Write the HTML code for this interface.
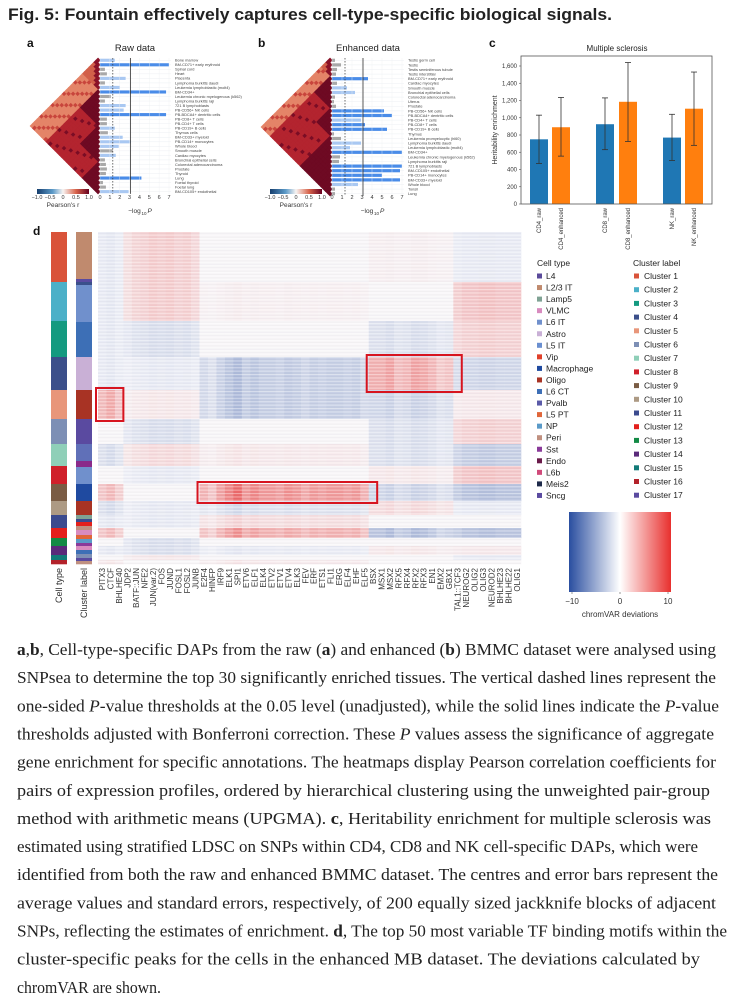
<!DOCTYPE html>
<html><head><meta charset="utf-8"><style>
html,body{margin:0;padding:0;background:#fff}
svg{display:block}
text{font-family:"Liberation Sans",sans-serif}
.cap{font-family:"Liberation Serif",serif;font-size:17px;fill:#222}
</style></head><body>
<svg id="fig" width="738" height="1005" viewBox="0 0 738 1005" xmlns="http://www.w3.org/2000/svg">
<defs>
<linearGradient id="pear" x1="0" x2="1" y1="0" y2="0"><stop offset="0" stop-color="#153e6e"/><stop offset="0.3" stop-color="#5c9ac8"/><stop offset="0.5" stop-color="#f7f4f2"/><stop offset="0.75" stop-color="#d8644c"/><stop offset="1" stop-color="#67001f"/></linearGradient>
<linearGradient id="chrom" x1="0" x2="1" y1="0" y2="0"><stop offset="0" stop-color="#2a4ea0"/><stop offset="0.5" stop-color="#ffffff"/><stop offset="1" stop-color="#e8302e"/></linearGradient>
<pattern id="stripes" width="4" height="3.4" patternUnits="userSpaceOnUse"><rect width="4" height="1.1" fill="#fff" opacity="0.4"/><rect y="2.2" width="4" height="0.6" fill="#889" opacity="0.1"/></pattern>
</defs>
<text x="8" y="20" font-size="17" font-weight="bold" fill="#222" textLength="604" lengthAdjust="spacingAndGlyphs">Fig. 5: Fountain effectively captures cell-type-specific biological signals.</text>
<g id="pa"></g>
<g id="pb"></g>
<g id="pc"></g>
<g id="pd"></g>
<g id="cap"></g>
</svg>
<script>
// ---------- data ----------
const rawLabels=["Bone marrow","BM-CD71+ early erythroid","Spinal cord","Heart","Placenta","Lymphoma burkitts daudi","Leukemia lymphoblastic (molt4)","BM-CD34+","Leukemia chronic myelogenous (k562)","Lymphoma burkitts raji","721 B lymphoblasts","PB-CD56+ NK cells","PB-BDCA4+ dentritic cells","PB-CD8+ T cells","PB-CD4+ T cells","PB-CD19+ B cells","Thymus cells","BM-CD33+ myeloid","PB-CD14+ monocytes","Whole blood","Smooth muscle","Cardiac myocytes","Bronchial epithelial cells","Colorectal adenocarcinoma","Prostate","Thyroid","Lung","Foetal thyroid","Foetal lung","BM-CD105+ endothelial"];
const rawValues=[1.5,7,0.5,0.7,2.6,0.5,2,6.7,1.1,0.5,2.6,2.4,6.7,0.7,0.7,1.5,0.8,2.3,3.1,1.9,1.3,1.6,0.5,0.6,0.7,0.6,4.2,0.3,0.6,2.9];
const rawGroups=[0,0,0,0,0,0,0,1,1,1,1,1,1,1,1,2,2,2,2,2,2,2,2,3,3,3,3,3,3,3];
const enhLabels=["Testis germ cell","Testis","Testis seminiferous tubule","Testis interstitial","BM-CD71+ early erythroid","Cardiac myocytes","Smooth muscle","Bronchial epithelial cells","Colorectal adenocarcinoma","Uterus","Prostate","PB-CD56+ NK cells","PB-BDCA4+ dentritic cells","PB-CD4+ T cells","PB-CD8+ T cells","PB-CD19+ B cells","Thymus","Leukemia promyelocytic (hl60)","Lymphoma burkitts daudi","Leukemia lymphoblastic (molt4)","BM-CD34+","Leukemia chronic myelogenous (k562)","Lymphoma burkitts raji","721 B lymphoblasts","BM-CD105+ endothelial","PB-CD14+ monocytes","BM-CD33+ myeloid","Whole blood","Tonsil","Lung"];
const enhValues=[0.3,0.9,0.5,0.4,3.6,0.5,1.5,2.3,0.3,0.2,0.4,5.2,6.0,2.9,3.3,5.5,0.2,0.9,2.9,1.8,7,0.8,0.7,7,6.8,5,6.8,2.6,0.3,0.3];
const enhGroups=[0,0,0,0,1,1,1,1,1,1,1,2,2,2,2,2,2,3,3,3,3,3,3,3,3,3,3,3,3,3];
const pTicks=[0,1,2,3,4,5,6,7];
const pearTicks=["−1.0","−0.5","0","0.5","1.0"];

const msCats=["CD4_raw","CD4_enhanced","CD8_raw","CD8_enhanced","NK_raw","NK_enhanced"];
const msValues=[750,890,925,1185,770,1105];
const msLow=[470,555,630,725,505,680];
const msHigh=[1030,1235,1230,1640,1040,1530];
const msTicks=[0,200,400,600,800,1000,1200,1400,1600];

const tfNames=["PITX3","CTCF","BHLHE40","JDP2","BATF::JUN","NFE2","JUN(var.2)","FOS","JUND","FOSL1","FOSL2","JUNB","E2F4","HINFP","IRF9","ELK1","SPI1","ETV6","ELF1","ELK4","ETV2","ETV1","ETV4","ELK3","FEV","ERF","ETS1","FLI1","ERG","ELF4","EHF","ELF5","BSX","MSX1","MSX2","RFX5","RFX4","RFX2","RFX3","EN1","EMX2","GBX1","TAL1::TCF3","NEUROG2","OLIG2","OLIG3","NEUROD2","BHLHE23","BHLHE22","OLIG1"];
const tfGroup=[0,0,0,1,1,1,1,1,1,1,1,1,2,2,2,2,2,2,2,2,2,2,2,2,2,2,2,2,2,2,2,2,3,3,3,3,3,3,3,3,3,3,4,4,4,4,4,4,4,4];
const tfWeight=[1,1.3,0.8,0.6,0.9,1,1.2,1.1,1.2,1,1.1,0.8,0.7,0.5,0.9,1.2,1.5,1,1.2,1,1,0.9,1.1,1,0.8,1,0.9,1,1,0.9,1,0.7,1,1,1.2,0.8,0.9,1.2,1.1,0.9,0.6,0.7,0.8,1,1,1.1,1.1,1,1,1];
const bandSizes=[50,39,36,33,29,25,22,18,17,14,13,10,8,9,5,4];
const bandColors=["#d9533a","#4bb0c8","#149a80","#3b4f8a","#e8967a","#7d8fb5","#8fcfb8","#d0202a","#7a5c44","#ad9a84","#3b4a8e","#e3201c","#138a45","#5a2a7a","#127a78","#b3222a"];
const bandG0=[-1,-1,-1,-1,5,0,-2,0,4,-2,-1,4,0,-1,0,1];
const bandG1=[3,3,-2,-1,1,-2,2,-1,0,-1,-1,0,-2,-2,1,0];
const bandG2=[0,0.5,0,-4,-4,0,1,0,8,-2,2,6,0,-1,0,1];
const bandG3=[0.5,0,-2,6,-3,-2,-2,1,-3,2,0,-5,0,1,0,0];
const bandG4=[-1,4,3,-3,1,3,-4,4,-5,-1,0,-5,0,1,-1,0];
const labelBars=[[0,47,"#c08a6e"],[47,50,"#5a4aa0"],[50,53,"#3b4f8a"],[53,56,"#7090cc"],[56,90,"#7090cc"],[90,125,"#3d6fb6"],[125,158,"#c9b0d6"],[158,187,"#a83324"],[187,212,"#5a4aa0"],[212,229,"#6070b8"],[229,235,"#8a2a8a"],[235,252,"#7090cc"],[252,269,"#1f4aa0"],[269,283,"#a83324"],[283,287,"#7fa294"],[287,290,"#3b4a8e"],[290,294,"#e3201c"],[294,298,"#c09080"],[298,303,"#d88bbf"],[303,307,"#e0663a"],[307,311,"#5a9ac8"],[311,314,"#8a3a9a"],[314,318,"#d88bbf"],[318,322,"#3d6fb6"],[322,326,"#7d8fb5"],[326,329,"#5a4aa0"],[329,332,"#c09080"]];
const ctNames=["L4","L2/3 IT","Lamp5","VLMC","L6 IT","Astro","L5 IT","Vip","Macrophage","Oligo","L6 CT","Pvalb","L5 PT","NP","Peri","Sst","Endo","L6b","Meis2","Sncg"];
const ctColors=["#5a4a9a","#c08a6e","#7fa294","#d88bbf","#7090cc","#c9b0d6","#6a8fd0","#e0402a","#1f4aa0","#a83324","#3d6fb6","#5a5aa8","#e0663a","#5a9ac8","#c09080","#8a3a9a","#6a1a4a","#d04a7a","#1e2a4a","#5a4aa0"];
const clNames=["Cluster 1","Cluster 2","Cluster 3","Cluster 4","Cluster 5","Cluster 6","Cluster 7","Cluster 8","Cluster 9","Cluster 10","Cluster 11","Cluster 12","Cluster 13","Cluster 14","Cluster 15","Cluster 16","Cluster 17"];
const clColors=["#d9533a","#4bb0c8","#149a80","#3b4f8a","#e8967a","#7d8fb5","#8fcfb8","#d0202a","#7a5c44","#ad9a84","#3b4a8e","#e3201c","#138a45","#5a2a7a","#127a78","#b3222a","#5a4aa0"];
const chromTicks=[-10,0,10];

// ---------- helpers ----------
const NS="http://www.w3.org/2000/svg";
function mk(parent,tag,at,txt){const e=document.createElementNS(NS,tag);for(const k in at)e.setAttribute(k,at[k]);if(txt!==undefined)e.textContent=txt;parent.appendChild(e);return e;}
function lerp(a,b,t){return Math.round(a+(b-a)*t);}
function chromColor(v){v=Math.max(-10,Math.min(10,v));const t=Math.abs(v)/10;
 if(v>=0)return `rgb(${lerp(248,232,t)},${lerp(246,48,t)},${lerp(248,46,t)})`;
 return `rgb(${lerp(246,42,t)},${lerp(246,78,t)},${lerp(250,160,t)})`;}

// ---------- panels a,b ----------
function tri(g,labels,vals,groups,xr,y0,rowH,bx0,bsc,lx,title,tx,letter,lxl,cbx,yb){
 let e=mk(g,"text",{x:lxl,y:47,"font-size":12,"font-weight":"bold",fill:"#111"},letter);
 
 e=mk(g,"text",{x:tx,y:51,"font-size":9.5,"text-anchor":"middle",fill:"#222"},title);
 
 const n=labels.length,h=rowH/2;
 for(let i=0;i<n;i++)for(let j=i;j<n;j++){
  const gi=groups[i],gj=groups[j];let c;
  if(gi===gj)c=gi===0?(j-i<2?"#8a1228":"#d2604a"):"#6e0a23";
  else if(Math.min(gi,gj)===0)c=((i+j)%5===0)?"#c8453c":"#e48468";
  else c=((i*7+j*3)%11===0)?"#7a0d25":"#b3242f";
  const cx=xr-(j-i)*h,cy=y0+(i+j+1)*h;
  e=mk(g,"polygon",{points:`${cx},${cy-h} ${cx+h},${cy} ${cx},${cy+h} ${cx-h},${cy}`,fill:c,stroke:c,"stroke-width":0.6});
  
 }
 e=mk(g,"rect",{x:cbx,y:yb-10,width:52,height:5,fill:"url(#pear)"});
 
 pearTicks.forEach((t,k)=>{e=mk(g,"text",{x:cbx+k*13,y:yb,"font-size":5.5,"text-anchor":"middle",fill:"#333"},t);
  });
 e=mk(g,"text",{x:cbx+26,y:yb+8,"font-size":6.5,"text-anchor":"middle",fill:"#333"},"Pearson's r");
 
 const xs=v=>bx0+v*bsc;
 for(let i=0;i<n;i++){const y=y0+i*rowH;
  mk(g,"line",{x1:bx0,x2:xs(7.2),y1:y+rowH/2,y2:y+rowH/2,stroke:"#eceff3","stroke-width":0.5});
  const v=vals[i],c=v>3.1?"#4a8ce8":(v>1.3?"#a9c8f2":"#a8a8a8");
  e=mk(g,"rect",{x:bx0,y:y+0.7,width:xs(v)-bx0,height:rowH-1.4,fill:c});
  
  e=mk(g,"text",{x:lx,y:y+rowH*0.8,"font-size":3.9,fill:"#444"},labels[i]);
  
 }
 pTicks.forEach(t=>{mk(g,"line",{x1:xs(t),x2:xs(t),y1:y0,y2:y0+n*rowH,stroke:"#eef0f3","stroke-width":0.4});
  e=mk(g,"text",{x:xs(t),y:yb,"font-size":5.5,"text-anchor":"middle",fill:"#333"},t);
  });
 e=mk(g,"line",{x1:xs(1.3),x2:xs(1.3),y1:y0,y2:y0+n*rowH,stroke:"#333","stroke-width":0.7,"stroke-dasharray":"1.5,1.5"});
 
 e=mk(g,"line",{x1:xs(3.1),x2:xs(3.1),y1:y0,y2:y0+n*rowH,stroke:"#333","stroke-width":0.8});
 
 e=mk(g,"text",{x:xs(3.5),y:yb+14,"font-size":6.5,"text-anchor":"middle",fill:"#333"},"−log");
 
 mk(g,"text",{x:xs(3.5)+7,y:yb+16,"font-size":4.5,fill:"#333"},"10");
 mk(g,"text",{x:xs(3.5)+13,y:yb+14,"font-size":6.5,"font-style":"italic",fill:"#333"},"P");
}
tri(document.getElementById("pa"),rawLabels,rawValues,rawGroups,98,58,4.53,100,9.86,175,"Raw data",135,"a",27,37,199);
tri(document.getElementById("pb"),enhLabels,enhValues,enhGroups,330,58,4.6,332,10,408,"Enhanced data",368,"b",258,270,199);

// ---------- panel c ----------
(function(){
 const g=document.getElementById("pc");
 const X0=521,X1=712,Yb=204,sc=138/1600;
 const ys=v=>Yb-v*sc;
 const centers=[539,561,605,628,672,694];
 let e=mk(g,"text",{x:489,y:47,"font-size":12,"font-weight":"bold",fill:"#111"},"c");
 
 e=mk(g,"text",{x:617,y:51,"font-size":8,"text-anchor":"middle",fill:"#222"},"Multiple sclerosis");
 
 msValues.forEach((v,i)=>{
  e=mk(g,"rect",{x:centers[i]-9,y:ys(v),width:18,height:Yb-ys(v),fill:i%2?"#ff7f0e":"#1f77b4"});
  
  e=mk(g,"line",{x1:centers[i],x2:centers[i],y1:ys(msLow[i]),y2:ys(msHigh[i]),stroke:"#333","stroke-width":0.8});
  
  [msLow[i],msHigh[i]].forEach(w=>mk(g,"line",{x1:centers[i]-3,x2:centers[i]+3,y1:ys(w),y2:ys(w),stroke:"#333","stroke-width":0.8}));
  e=mk(g,"text",{x:0,y:0,"font-size":6,"text-anchor":"end",fill:"#333",transform:`translate(${centers[i]+2},${Yb+4}) rotate(-90)`},msCats[i]);
  
 });
 e=mk(g,"rect",{x:X0,y:56,width:X1-X0,height:Yb-56,fill:"none",stroke:"#555","stroke-width":0.8});
 
 msTicks.forEach(t=>{mk(g,"line",{x1:X0-2,x2:X0,y1:ys(t),y2:ys(t),stroke:"#555","stroke-width":0.6});
  e=mk(g,"text",{x:X0-4,y:ys(t)+2,"font-size":6,"text-anchor":"end",fill:"#333"},t.toLocaleString("en-US"));
  });
 e=mk(g,"text",{x:0,y:0,"font-size":7,"text-anchor":"middle",fill:"#333",transform:"translate(497,130) rotate(-90)"},"Heritability enrichment");
 
})();

// ---------- panel d ----------
(function(){
 const g=document.getElementById("pd");
 const X0=98,X1=521,Y0=232,Y1=564,nc=tfNames.length,cw=(X1-X0)/nc;
 const total=bandSizes.reduce((a,b)=>a+b,0),sy=(Y1-Y0)/total;
 let e=mk(g,"text",{x:33,y:235,"font-size":12,"font-weight":"bold",fill:"#111"},"d");
 
 const gv=[bandG0,bandG1,bandG2,bandG3,bandG4];
 let acc=0;
 bandSizes.forEach((s,b)=>{
  const y=Y0+acc*sy,h=s*sy;
  e=mk(g,"rect",{x:51,y:y,width:16,height:h+0.3,fill:bandColors[b]});
  
  for(let c=0;c<nc;c++){
   const v=gv[tfGroup[c]][b]*tfWeight[c]*0.6;
   e=mk(g,"rect",{x:X0+c*cw,y:y,width:cw+0.3,height:h+0.3,fill:chromColor(v)});
   
  }
  acc+=s;
 });
 labelBars.forEach(r=>{e=mk(g,"rect",{x:76,y:Y0+r[0],width:16,height:r[1]-r[0]+0.3,fill:r[2]});
  });
 mk(g,"rect",{x:X0,y:Y0,width:X1-X0,height:Y1-Y0,fill:"url(#stripes)"});
 [[0,3,4],[32,43,3],[12,33,8]].forEach(bx=>{
  let a=0;for(let k=0;k<bx[2];k++)a+=bandSizes[k];
  const y=Y0+a*sy,h=bandSizes[bx[2]]*sy;
  e=mk(g,"rect",{x:X0+bx[0]*cw-2,y:y-2,width:(bx[1]-bx[0])*cw+2,height:h+4,fill:"none",stroke:"#d7141f","stroke-width":2});
  
 });
 tfNames.forEach((t,c)=>{e=mk(g,"text",{x:0,y:0,"font-size":8,"text-anchor":"end",fill:"#333",transform:`translate(${X0+(c+0.5)*cw+3},${Y1+4}) rotate(-90)`},t);
  });
 e=mk(g,"text",{x:0,y:0,"font-size":9,"text-anchor":"end",fill:"#333",transform:`translate(62,568) rotate(-90)`},"Cell type");
 
 e=mk(g,"text",{x:0,y:0,"font-size":9,"text-anchor":"end",fill:"#333",transform:`translate(87,568) rotate(-90)`},"Cluster label");
 
 e=mk(g,"text",{x:537,y:266,"font-size":8.5,fill:"#222"},"Cell type");
 
 e=mk(g,"text",{x:633,y:266,"font-size":8.5,fill:"#222"},"Cluster label");
 
 ctNames.forEach((nm,i)=>{const y=276+i*11.55;
  e=mk(g,"rect",{x:537,y:y-2.5,width:5,height:5,fill:ctColors[i]});
  
  e=mk(g,"text",{x:546,y:y+3,"font-size":8.5,fill:"#222"},nm);
  });
 clNames.forEach((nm,i)=>{const y=276+i*13.7;
  e=mk(g,"rect",{x:634,y:y-2.5,width:5,height:5,fill:clColors[i]});
  
  e=mk(g,"text",{x:644,y:y+3,"font-size":8.5,fill:"#222"},nm);
  });
 e=mk(g,"rect",{x:569,y:512,width:102,height:80,fill:"url(#chrom)"});
 
 chromTicks.forEach(t=>{const x=620+t*4.8;
  mk(g,"line",{x1:x,x2:x,y1:592,y2:594,stroke:"#555","stroke-width":0.6});
  e=mk(g,"text",{x:x,y:604,"font-size":8,"text-anchor":"middle",fill:"#333"},t===-10?"−10":String(t));
  });
 e=mk(g,"text",{x:620,y:617,"font-size":8,"text-anchor":"middle",fill:"#333"},"chromVAR deviations");
 
})();

// ---------- caption ----------
(function(){
 const g=document.getElementById("cap");
 const lines=[
 [["b","a"],[ "",","],["b","b"],["",", Cell-type-specific DAPs from the raw ("],["b","a"],["",") and enhanced ("],["b","b"],["",") BMMC dataset were analysed using"]],
 [["","SNPsea to determine the top 30 significantly enriched tissues. The vertical dashed lines represent the"]],
 [["","one-sided "],["i","P"],["","-value thresholds at the 0.05 level (unadjusted), while the solid lines indicate the "],["i","P"],["","-value"]],
 [["","thresholds adjusted with Bonferroni correction. These "],["i","P"],[""," values assess the significance of aggregate"]],
 [["","gene enrichment for specific annotations. The heatmaps display Pearson correlation coefficients for"]],
 [["","pairs of expression profiles, ordered by hierarchical clustering using the unweighted pair-group"]],
 [["","method with arithmetic means (UPGMA). "],["b","c"],["",", Heritability enrichment for multiple sclerosis was"]],
 [["","estimated using stratified LDSC on SNPs within CD4, CD8 and NK cell-specific DAPs, which were"]],
 [["","identified from both the raw and enhanced BMMC dataset. The centres and error bars represent the"]],
 [["","average values and standard errors, respectively, of 200 equally sized jackknife blocks of adjacent"]],
 [["","SNPs, reflecting the estimates of enrichment. "],["b","d"],["",", The top 50 most variable TF binding motifs within the"]],
 [["","cluster-specific peaks for the cells in the enhanced MB dataset. The deviations calculated by"]],
 [["","chromVAR are shown."]]];
 const ends=[716,716,719,714,716,710,711,698,718,716,727,700,161];
 lines.forEach((parts,i)=>{
  const t=mk(g,"text",{x:17,y:655+i*28.15,class:"cap",textLength:ends[i]-17,lengthAdjust:"spacingAndGlyphs"});
  
  
  parts.forEach(p=>{const at={};if(p[0]==="b")at["font-weight"]="bold";if(p[0]==="i")at["font-style"]="italic";mk(t,"tspan",at,p[1]);});
 });
})();
</script>
</body></html>
